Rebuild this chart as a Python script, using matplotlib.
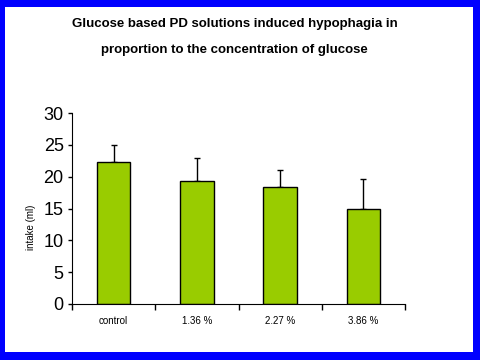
import matplotlib.pyplot as plt
from matplotlib.patches import Rectangle

groups = ["control", "1.36 %", "2.27 %", "3.86 %"]
intake = [22.3, 19.3, 18.3, 15.0]
sem = [2.7, 3.6, 2.7, 4.6]

title1 = "Glucose based PD solutions induced hypophagia in"
title2 = "proportion to the concentration of glucose"

plt.rcParams['font.family'] = ['Liberation Sans', 'DejaVu Sans']

fig = plt.figure(figsize=(4.8, 3.6), dpi=100)
fig.patch.set_facecolor('#0000ff')
# white slide area inside blue border
fig.patches.append(Rectangle((5/480, 8/360), 468/480, 345/360, transform=fig.transFigure,
                             facecolor='white', edgecolor='none', zorder=-5))

ax = fig.add_axes([72/480, 56/360, 333/480, 191/360])
ax.set_facecolor('none')

x = list(range(len(groups)))
ax.bar(x, intake, width=0.4, color='#99cc00', edgecolor='black', linewidth=1, zorder=2)
ax.errorbar(x, intake, yerr=[[0]*len(sem), sem], fmt='none', ecolor='black',
            elinewidth=1, capsize=2.5, capthick=1, zorder=1)

ax.set_xlim(-0.5, len(groups) - 0.5)
ax.set_ylim(0, 30)
ax.set_yticks(range(0, 31, 5))
ax.tick_params(axis='y', labelsize=13, length=3, pad=3, width=1)
ax.set_xticks([i - 0.5 for i in range(len(groups) + 1)])
ax.set_xticklabels([])
ax.tick_params(axis='x', which='major', length=4, direction='out', width=1)
ax.set_xticks(x, minor=True)
ax.set_xticklabels(groups, minor=True, fontsize=7)
ax.tick_params(axis='x', which='minor', length=0, pad=9)

ax.spines['top'].set_visible(False)
ax.spines['right'].set_visible(False)

fig.text(31/480, 1 - 227/360, "intake (ml)", rotation=90, ha='center', va='center', fontsize=7)

fig.text(234.5/480, 1 - 27/360, title1, ha='center', va='baseline', fontsize=9.5, fontweight='bold')
fig.text(234.5/480, 1 - 53/360, title2, ha='center', va='baseline', fontsize=9.5, fontweight='bold')

fig.savefig("out.png", dpi=100, facecolor=fig.get_facecolor())
